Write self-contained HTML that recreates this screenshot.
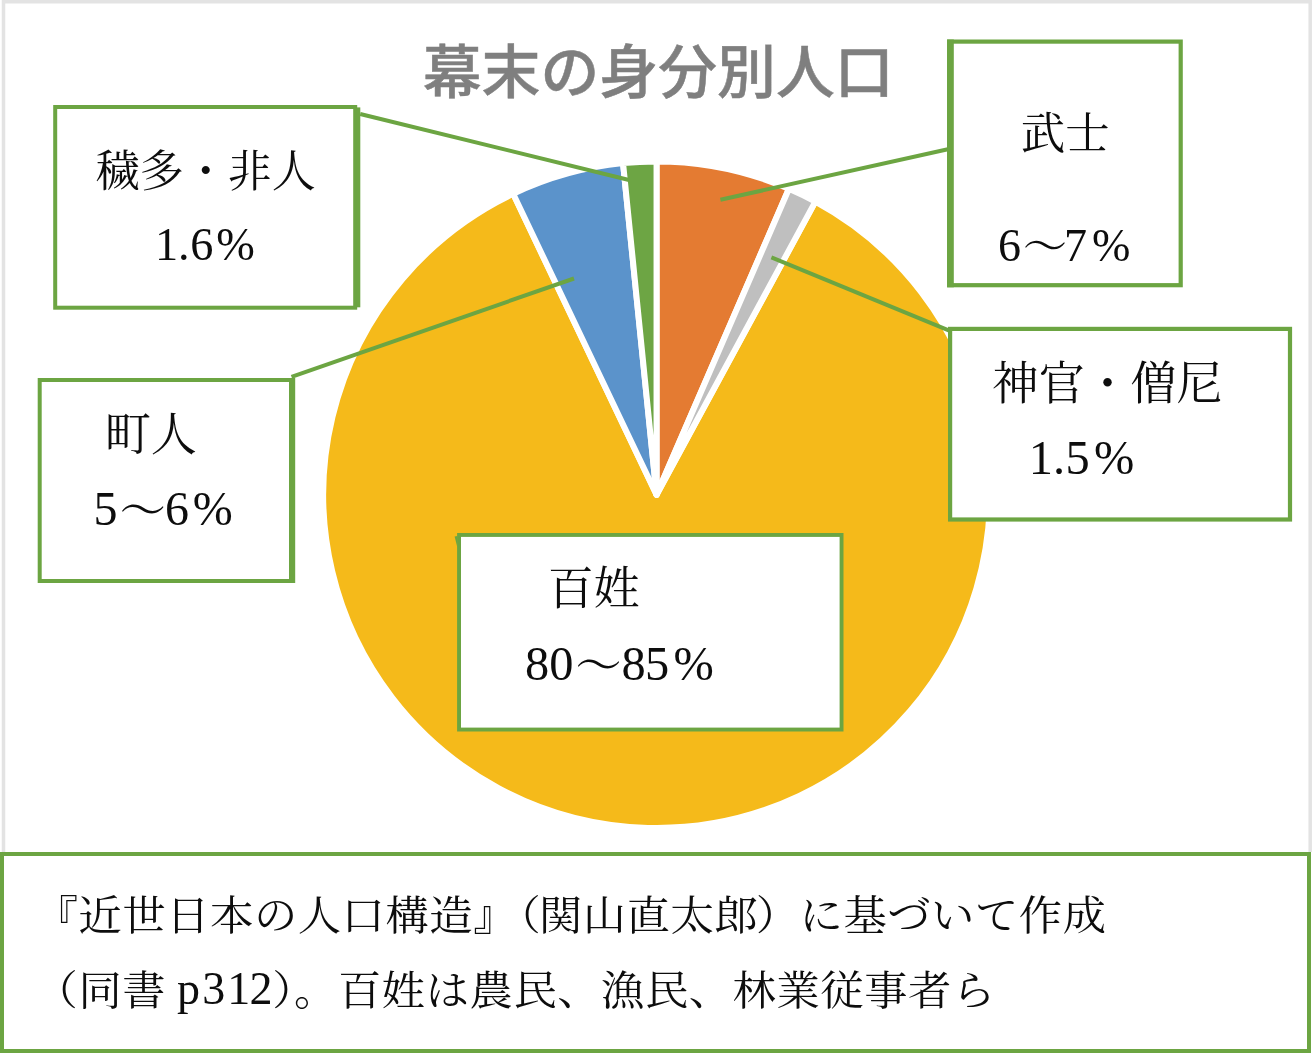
<!DOCTYPE html>
<html lang="ja"><head><meta charset="utf-8"><title>幕末の身分別人口</title>
<style>
html,body{margin:0;padding:0;background:#fff}
body{width:1312px;height:1054px;overflow:hidden}
svg{display:block}
.m{font-family:"Liberation Serif","Noto Serif CJK JP","Noto Serif CJK SC",serif;fill:#0d0d0d}
.l{font-family:"Liberation Serif",serif;fill:#0d0d0d}
.t{font-family:"Liberation Sans","Noto Sans CJK JP","Noto Sans CJK SC",sans-serif;font-weight:500;fill:#7f7f7f}
</style></head><body>
<svg width="1312" height="1054" viewBox="0 0 1312 1054">
<rect width="1312" height="1054" fill="#fff"/>
<path d="M3.5 852V1.75H1310.2V852" fill="none" stroke="#e3e3e3" stroke-width="3.5"/>
<path d="M656.55 494.70L815.33 201.65A333.3 333.3 0 1 1 513.17 193.82Z" fill="#F5BA1A" stroke="#fff" stroke-width="6" stroke-linejoin="round"/>
<path d="M656.55 494.70L656.55 161.40A333.3 333.3 0 0 1 788.92 188.81Z" fill="#E47B32" stroke="#fff" stroke-width="6" stroke-linejoin="round"/>
<path d="M656.55 494.70L788.92 188.81A333.3 333.3 0 0 1 815.33 201.65Z" fill="#BFBFBF" stroke="#fff" stroke-width="6" stroke-linejoin="round"/>
<path d="M656.55 494.70L513.17 193.82A333.3 333.3 0 0 1 623.04 163.09Z" fill="#5B93CB" stroke="#fff" stroke-width="6" stroke-linejoin="round"/>
<path d="M656.55 494.70L623.04 163.09A333.3 333.3 0 0 1 656.55 161.40Z" fill="#6DA544" stroke="#fff" stroke-width="6" stroke-linejoin="round"/>
<line x1="360.2" y1="114" x2="629" y2="180" stroke="#6CA542" stroke-width="4.0"/>
<line x1="949" y1="149" x2="720.4" y2="199.8" stroke="#6CA542" stroke-width="4.0"/>
<line x1="950.5" y1="331.2" x2="771.4" y2="257.4" stroke="#6CA542" stroke-width="4.0"/>
<line x1="291.5" y1="376.8" x2="574" y2="278.5" stroke="#6CA542" stroke-width="4.0"/>
<rect x="55.20" y="107.00" width="300.00" height="200.70" fill="#fff" stroke="#6CA542" stroke-width="4.0"/>
<rect x="356.2" y="107.4" width="4.10" height="199.90" fill="#6CA542"/>
<rect x="949.20" y="41.60" width="231.50" height="243.60" fill="#fff" stroke="#6CA542" stroke-width="4.2"/>
<rect x="947.1" y="39.5" width="6.70" height="247.80" fill="#6CA542"/>
<rect x="950.10" y="328.90" width="339.90" height="190.60" fill="#fff" stroke="#6CA542" stroke-width="4.2"/>
<rect x="39.70" y="380.00" width="253.40" height="201.00" fill="#fff" stroke="#6CA542" stroke-width="4.0"/>
<rect x="289" y="378" width="6.10" height="205.00" fill="#6CA542"/>
<rect x="459.05" y="534.95" width="382.50" height="194.60" fill="#fff" stroke="#6CA542" stroke-width="3.9"/>
<rect x="2.00" y="854.00" width="1307.00" height="197.00" fill="#fff" stroke="#6CA542" stroke-width="4.0"/>
<path d="M457.3 536L454.6 536.4L457.3 547Z" fill="#6CA542"/>
<text class="t" x="422.7" y="0" transform="translate(0,93.3) scale(1,0.98)" font-size="58.9" stroke="#7f7f7f" stroke-width="0.5">幕末の身分別人口</text>
<text class="m" font-size="44" y="187.2" x="95.8 139.8 183.8 227.8 271.8">穢多・非人</text>
<text class="m" font-size="44.5" y="148.9" x="1020.8 1065.3">武士</text>
<text class="m" font-size="46" y="398.7" x="992.6 1038.6 1084.6 1130.6 1176.6">神官・僧尼</text>
<text class="m" font-size="46" y="450.0" x="104.8 150.8">町人</text>
<text class="m" font-size="46" y="603.9" x="547.7 593.7">百姓</text>
<text class="l" font-size="46.3"><tspan x="155.1 178.0 190.3 216.3" y="259.6">1.6%</tspan></text>
<text class="l" font-size="46.1"><tspan x="997.9" y="260.5">6</tspan><tspan class="m" font-size="44" x="1023.0" y="262.1">〜</tspan><tspan x="1063.9 1092.0" y="260.5">7%</tspan></text>
<text class="l" font-size="48.4"><tspan x="1028.8 1052.9 1065.6 1093.9" y="473.8">1.5%</tspan></text>
<text class="l" font-size="48.0"><tspan x="93.4" y="524.6">5</tspan><tspan class="m" font-size="46" x="119.8" y="526.2">〜</tspan><tspan x="165.0 192.7" y="524.6">6%</tspan></text>
<text class="l" font-size="48.4"><tspan x="525.0 549.3" y="679.6">80</tspan><tspan class="m" font-size="46" x="575.6" y="681.2">〜</tspan><tspan x="621.4 645.0 673.5" y="679.6">85%</tspan></text>
<text class="m" font-size="43.3" transform="translate(0,930.1) scale(1,0.945)" y="0" x="34.7 78.5 122.4 166.2 210.1 253.9 297.8 341.6 385.5 429.3 473.2 497.6 539.0 582.8 626.7 670.5 714.4 755.7 799.6 843.4 887.3 931.1 975.0 1018.8 1062.7">『近世日本の人口構造』（関山直太郎）に基づいて作成</text>
<text class="m" font-size="43.3" transform="translate(0,1005.0) scale(1,0.945)" y="0" x="34.6 78.4 122.3 166.1">（同書 </text>
<text class="l" font-size="46"><tspan x="177.0 202.3 227.3 249.5" y="1004.4">p312</tspan></text>
<text class="m" font-size="43.3" transform="translate(0,1005.0) scale(1,0.945)" y="0" x="272.2 294.1 337.9 381.8 425.7 469.5 513.4 557.2 601.1 644.9 688.8 732.6 776.5 820.3 864.2 908.0 951.9">）。百姓は農民、漁民、林業従事者ら</text>
</svg>
</body></html>
